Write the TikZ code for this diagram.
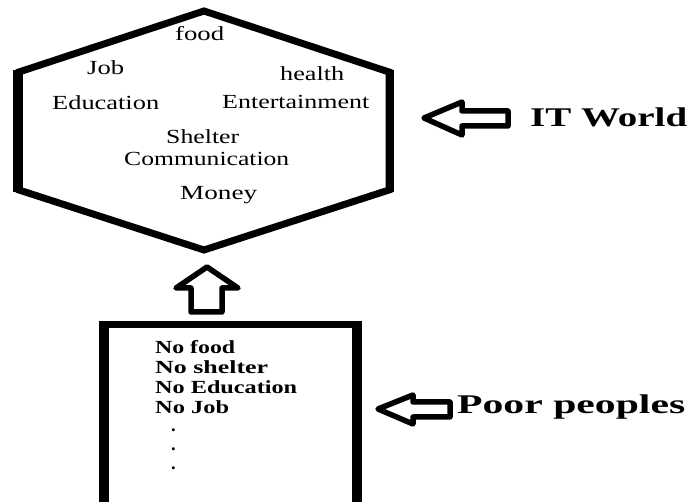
\documentclass[tikz,border=0pt]{standalone}
\usepackage{fontspec}
\setmainfont{Liberation Serif}
\newcommand\fitw[2]{\resizebox{#1pt}{\height}{#2}}
\begin{document}
\begin{tikzpicture}[x=1pt,y=-1pt,
  lbl/.style={inner sep=0pt, anchor=base west, font=\fontsize{20}{20}\selectfont},
  blbl/.style={inner sep=0pt, anchor=base west, font=\bfseries\fontsize{18.5}{18.5}\selectfont},
  big/.style={inner sep=0pt, anchor=base west, font=\bfseries\fontsize{27}{27}\selectfont},
  outline/.style={draw=black, line width=7pt, line join=miter},
  blockarrow/.style={draw=black, fill=white, line width=5.5pt, line join=round}]
\useasboundingbox (0,0) rectangle (691,502);
\clip (0,0) rectangle (691,502);
% hexagon
\draw[outline] (204,11) -- (389,72) -- (389,190) -- (204,250) -- (19,190) -- (19,72) -- cycle;
\draw[line width=10pt] (18,70) -- (18,192);
\draw[line width=8pt] (390,70) -- (390,192);
% texts in hexagon
\node[lbl] (food) at (175,41) {\fitw{49}{food}};
\node[lbl] (job) at (87,75) {\fitw{37}{Job}};
\node[lbl] (health) at (280,81) {\fitw{64}{health}};
\node[lbl] (edu) at (52,110) {\fitw{107}{Education}};
\node[lbl] (ent) at (222,109) {\fitw{147}{Entertainment}};
\node[lbl] (shel) at (166,144) {\fitw{73}{Shelter}};
\node[lbl] (comm) at (124,166) {\fitw{165}{Communication}};
\node[lbl] (money) at (180,200) {\fitw{77}{Money}};
% up arrow
\draw[blockarrow] (207,267) -- (238,288) -- (222,288) -- (222,312) -- (191,312) -- (191,288) -- (176,288) -- cycle;
% IT World arrow
\draw[blockarrow] (424,118) -- (462,102) -- (462,111) -- (508,111) -- (508,126) -- (462,126) -- (462,135) -- cycle;
\node[big] (itw) at (530,127) {\fitw{157}{IT World}};
% box
\draw[line width=10pt] (104,520) -- (104,321);
\draw[line width=10pt] (357,520) -- (357,321);
\draw[line width=7pt] (99,324.5) -- (362,324.5);
\node[blbl] (n1) at (155,354) {\fitw{80}{No food}};
\node[blbl] (n2) at (155,374) {\fitw{113}{No shelter}};
\node[blbl] (n3) at (155,394) {\fitw{142}{No Education}};
\node[blbl] (n4) at (155,414) {\fitw{74}{No Job}};
\node[blbl] (d1) at (171,432) {.};
\node[blbl] (d2) at (171,451) {.};
\node[blbl] (d3) at (171,470) {.};
% poor arrow
\draw[blockarrow] (378,409) -- (413,395) -- (413,402) -- (450,402) -- (450,417) -- (413,417) -- (413,424) -- cycle;
\node[big] (poor) at (457,414) {\fitw{228}{Poor peoples}};
\end{tikzpicture}
\end{document}
